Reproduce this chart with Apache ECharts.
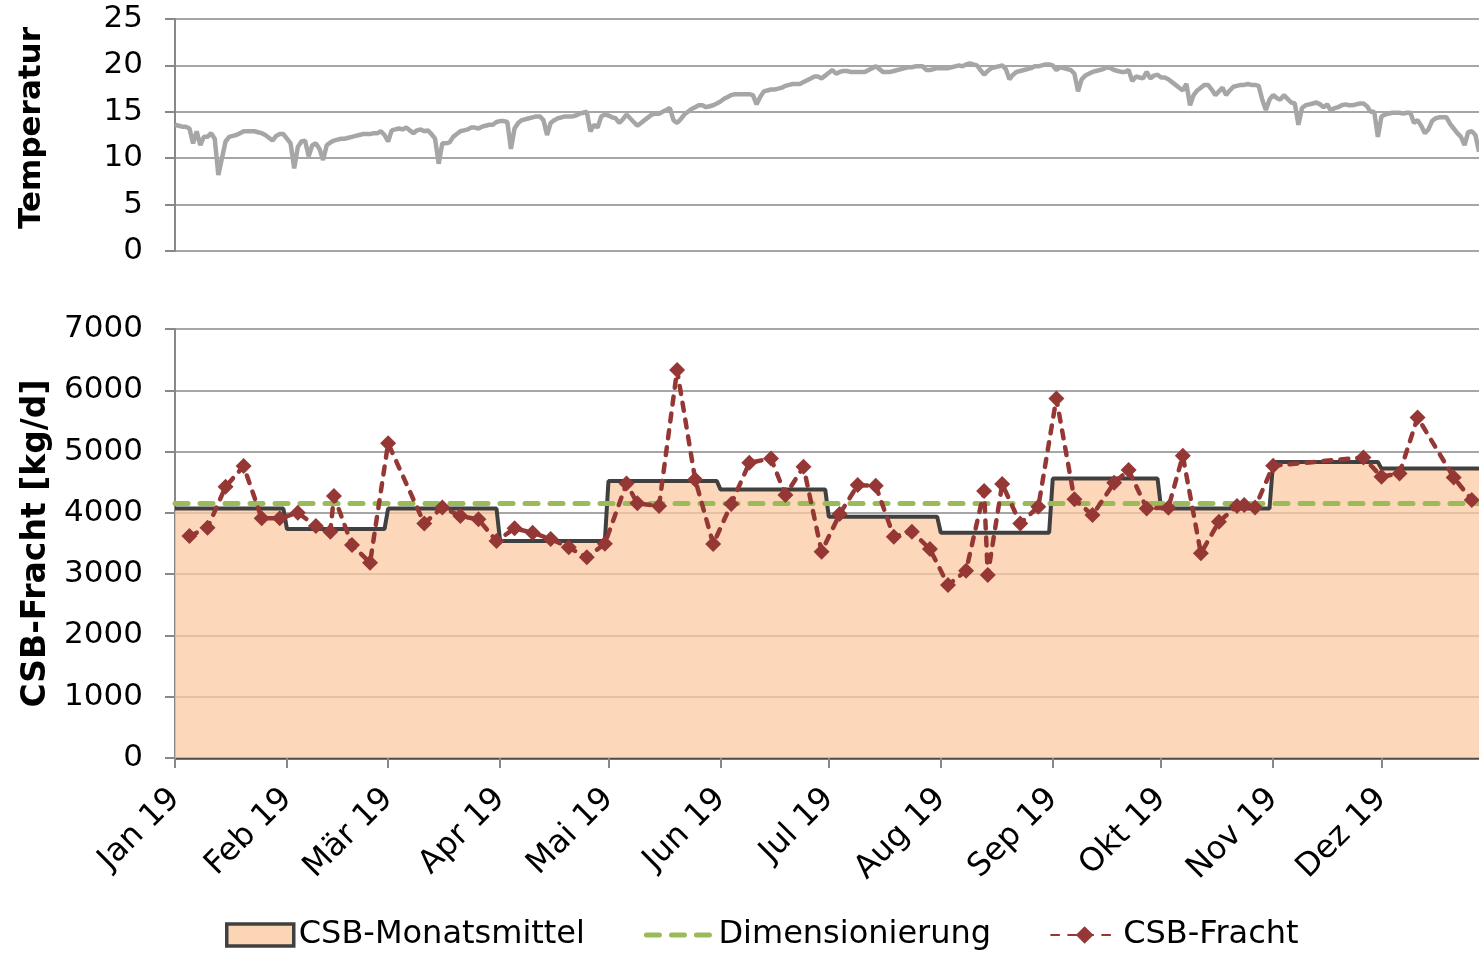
<!DOCTYPE html>
<html>
<head>
<meta charset="utf-8">
<script src="https://cdn.jsdelivr.net/npm/echarts@6/dist/echarts.min.js"></script>
<style>
  html, body { margin: 0; padding: 0; background: #fff; }
  #chart { width: 1479px; height: 953px; }
</style>
</head>
<body>
<div id="chart"></div>
<script>
// Tage ab 1. Jan 2019 (Tag 0)
const monthStart = [0, 31, 59, 90, 120, 151, 181, 212, 243, 273, 304, 334];
const monthEnd = [30, 58, 89, 119, 150, 180, 211, 242, 272, 303, 333, 364];
const monthLabels = ["Jan 19", "Feb 19", "Mär 19", "Apr 19", "Mai 19", "Jun 19",
  "Jul 19", "Aug 19", "Sep 19", "Okt 19", "Nov 19", "Dez 19"];

// CSB-Monatsmittel [kg/d]
const monthMean = [4070, 3736, 4070, 3540, 4519, 4383, 3937, 3676, 4560, 4070, 4830, 4722];

// Dimensionierung [kg/d]
const dimValue = 4160;

// CSB-Fracht Einzelwerte
const loadDays = [4, 9, 14, 19, 24, 29, 34, 39, 43, 44, 49, 54, 59, 69, 74, 79, 84, 89, 94, 99,
  104, 109, 114, 119, 125, 128, 134, 139, 144, 149, 154, 159, 165, 169, 174, 179, 184, 189, 194, 199,
  204, 209, 214, 219, 224, 225, 229, 234, 239, 244, 249, 254, 260, 264, 269, 275, 279, 284, 289, 294,
  296, 299, 304, 329, 334, 339, 344, 354, 359];
const loadValues = [3622, 3757, 4426, 4763, 3910, 3910, 4002, 3785, 3692, 4274, 3475, 3186, 5134, 3828, 4089, 3948, 3894, 3540, 3747, 3676,
  3573, 3437, 3274, 3497, 4481, 4155, 4111, 6330, 4546, 3491, 4144, 4817, 4888, 4290, 4752, 3366, 3980, 4453, 4442, 3610,
  3692, 3409, 2822, 3055, 4356, 2985, 4470, 3828, 4100, 5868, 4220, 3964, 4491, 4698, 4073, 4084, 4932, 3339, 3856, 4111,
  4127, 4089, 4769, 4905, 4589, 4643, 5557, 4578, 4209];

// Temperatur, Tageswerte ab Tag 0
const tempValues = [
  13.6, 13.5, 13.4, 13.4, 13.2, 11.6, 12.9, 11.4, 12.3, 12.3,
  12.7, 12.1, 8.2, 10.0, 11.8, 12.3, 12.4, 12.5, 12.7, 12.9,
  12.9, 12.9, 12.9, 12.8, 12.7, 12.5, 12.2, 11.9, 12.4, 12.6,
  12.6, 12.1, 11.6, 8.9, 11.2, 11.8, 11.9, 10.2, 11.4, 11.6,
  11.0, 9.8, 11.4, 11.7, 11.9, 12.0, 12.1, 12.1, 12.2, 12.3,
  12.4, 12.5, 12.6, 12.6, 12.6, 12.7, 12.7, 12.9, 12.5, 11.8,
  13.0, 13.1, 13.2, 13.1, 13.3, 13.0, 12.7, 13.0, 13.1, 12.9,
  13.0, 12.6, 12.1, 9.4, 11.6, 11.6, 11.7, 12.3, 12.6, 12.9,
  13.0, 13.1, 13.3, 13.3, 13.2, 13.4, 13.5, 13.6, 13.6, 13.9,
  14.0, 14.0, 13.9, 11.0, 13.2, 13.8, 14.1, 14.2, 14.3, 14.4,
  14.5, 14.5, 14.1, 12.5, 13.8, 14.1, 14.3, 14.4, 14.5, 14.5,
  14.5, 14.6, 14.8, 14.9, 15.0, 12.9, 13.6, 13.3, 14.5, 14.7,
  14.6, 14.4, 14.3, 13.8, 14.2, 14.7, 14.3, 13.9, 13.5, 13.8,
  14.1, 14.4, 14.7, 14.8, 14.8, 15.0, 15.2, 15.4, 14.1, 13.8,
  14.2, 14.7, 15.0, 15.3, 15.5, 15.7, 15.7, 15.5, 15.6, 15.7,
  15.9, 16.1, 16.4, 16.6, 16.8, 16.9, 16.9, 16.9, 16.9, 16.9,
  16.8, 15.8, 16.6, 17.2, 17.3, 17.4, 17.4, 17.5, 17.6, 17.8,
  17.9, 18.0, 18.0, 18.0, 18.2, 18.4, 18.6, 18.8, 18.8, 18.6,
  18.9, 19.2, 19.5, 19.1, 19.3, 19.4, 19.4, 19.3, 19.3, 19.3,
  19.3, 19.3, 19.5, 19.7, 19.9, 19.6, 19.3, 19.3, 19.3, 19.4,
  19.5, 19.6, 19.7, 19.8, 19.8, 19.9, 19.9, 19.9, 19.5, 19.5,
  19.6, 19.7, 19.7, 19.7, 19.7, 19.8, 19.9, 20.0, 19.9, 20.1,
  20.2, 20.1, 20.0, 19.5, 19.0, 19.4, 19.7, 19.8, 19.9, 20.0,
  19.6, 18.5, 19.0, 19.3, 19.4, 19.5, 19.6, 19.7, 19.9, 19.9,
  20.0, 20.1, 20.1, 20.0, 19.5, 19.8, 19.7, 19.6, 19.5, 19.1,
  17.2, 18.5, 18.9, 19.1, 19.3, 19.4, 19.5, 19.6, 19.8, 19.7,
  19.5, 19.4, 19.3, 19.3, 19.5, 18.3, 18.8, 18.7, 18.6, 19.3,
  18.6, 18.9, 19.0, 18.7, 18.7, 18.5, 18.2, 17.9, 17.6, 17.3,
  18.0, 15.7, 16.8, 17.3, 17.6, 17.9, 17.9, 17.4, 16.8, 17.2,
  17.6, 16.8, 17.3, 17.7, 17.8, 17.9, 17.9, 18.0, 17.9, 17.9,
  17.8, 16.3, 15.2, 16.3, 16.8, 16.5, 16.3, 16.8, 16.4, 16.0,
  15.9, 13.6, 15.4, 15.7, 15.8, 15.9, 16.0, 15.8, 15.5, 15.8,
  15.1, 15.4, 15.5, 15.7, 15.8, 15.7, 15.7, 15.8, 15.9, 15.9,
  15.6, 15.0, 15.0, 12.3, 14.5, 14.7, 14.8, 14.9, 14.9, 14.9,
  14.8, 14.9, 14.9, 13.8, 14.1, 13.5, 12.7, 13.1, 14.0, 14.3,
  14.4, 14.4, 14.4, 13.7, 13.2, 12.7, 12.3, 11.4, 12.8, 12.9,
  12.5, 10.7
];

const font = "DejaVu Sans";
const gridGray = "#888888";
const dimStyle = { color: "#9BBB59", width: 5, type: [13, 12], cap: "round" };

const chart = echarts.init(document.getElementById("chart"));

const meanData = [];
monthMean.forEach((m, i) => {
  meanData.push([monthStart[i], m]);
  meanData.push([monthEnd[i], m]);
});

chart.setOption({
  animation: false,
  textStyle: { fontFamily: font, color: "#000" },
  grid: [
    { left: 175, right: 0, top: 19, height: 232 },
    { left: 175, right: 0, top: 329, height: 429 }
  ],
  xAxis: [
    {
      gridIndex: 0,
      type: "value",
      min: 0,
      max: 361,
      axisLine: { show: false },
      axisTick: { show: false },
      axisLabel: { show: false },
      splitLine: { show: false }
    },
    {
      gridIndex: 1,
      type: "value",
      min: 0,
      max: 361,
      axisLine: { show: true, lineStyle: { color: "#4a4a4a", width: 2.5 } },
      axisTick: {
        show: true,
        customValues: monthStart,
        length: 10,
        lineStyle: { color: gridGray, width: 2 }
      },
      axisLabel: {
        customValues: monthStart,
        rotate: 45,
        margin: 36,
        fontSize: 32,
        fontFamily: font,
        color: "#000",
        formatter: v => monthLabels[monthStart.indexOf(v)]
      },
      splitLine: { show: false }
    }
  ],
  yAxis: [
    {
      gridIndex: 0,
      type: "value",
      min: 0,
      max: 25,
      interval: 5,
      name: "Temperatur",
      nameLocation: "middle",
      nameRotate: 90,
      nameGap: 128,
      nameTextStyle: { fontSize: 31, fontWeight: "bold", fontFamily: font, color: "#000", padding: [0, 0, 0, 14] },
      axisLine: { show: true, lineStyle: { color: gridGray, width: 2 } },
      axisTick: { show: true, length: 10, lineStyle: { color: gridGray, width: 2 } },
      axisLabel: { fontSize: 31, margin: 32, fontFamily: font, color: "#000" },
      splitLine: { lineStyle: { color: gridGray, width: 1.6 } }
    },
    {
      gridIndex: 1,
      type: "value",
      min: 0,
      max: 7000,
      interval: 1000,
      name: "CSB-Fracht [kg/d]",
      nameLocation: "middle",
      nameRotate: 90,
      nameGap: 111,
      nameTextStyle: { fontSize: 33, fontWeight: "bold", fontFamily: font, color: "#000" },
      axisLine: { show: true, lineStyle: { color: gridGray, width: 2 } },
      axisTick: { show: true, length: 10, lineStyle: { color: gridGray, width: 2 } },
      axisLabel: {
        fontSize: 31,
        margin: 32,
        fontFamily: font,
        color: "#000",
        formatter: v => String(v)
      },
      splitLine: { lineStyle: { color: gridGray, width: 1.6 } }
    }
  ],
  legend: {
    left: 220,
    top: 914,
    itemWidth: 67,
    itemHeight: 22,
    itemGap: 59,
    textStyle: { fontSize: 32, fontFamily: font, color: "#000" },
    data: [
      {
        name: "CSB-Monatsmittel",
        icon: "rect",
        itemStyle: { color: "#FCD5B4", borderColor: "#404040", borderWidth: 3.5 }
      },
      { name: "Dimensionierung", itemStyle: { opacity: 0 }, lineStyle: dimStyle },
      { name: "CSB-Fracht" }
    ]
  },
  series: [
    {
      name: "Temperatur",
      type: "line",
      xAxisIndex: 0,
      yAxisIndex: 0,
      showSymbol: false,
      symbol: "none",
      lineStyle: { color: "#A6A6A6", width: 4.5 },
      data: tempValues.map((v, i) => [i, v])
    },
    {
      name: "CSB-Monatsmittel",
      type: "line",
      xAxisIndex: 1,
      yAxisIndex: 1,
      symbol: "none",
      lineStyle: { color: "#404040", width: 4 },
      itemStyle: { color: "#404040" },
      areaStyle: { color: "rgba(251,202,162,0.75)", opacity: 1 },
      data: meanData
    },
    {
      name: "Dimensionierung",
      type: "line",
      xAxisIndex: 1,
      yAxisIndex: 1,
      symbol: "none",
      itemStyle: { color: "#9BBB59" },
      lineStyle: dimStyle,
      data: [],
      markLine: {
        silent: true,
        symbol: ["none", "none"],
        label: { show: false },
        lineStyle: dimStyle,
        emphasis: { disabled: true },
        data: [{ yAxis: dimValue, lineStyle: dimStyle }]
      }
    },
    {
      name: "CSB-Fracht",
      type: "line",
      xAxisIndex: 1,
      yAxisIndex: 1,
      symbol: "diamond",
      symbolSize: 16,
      itemStyle: { color: "#953735" },
      lineStyle: { color: "#953735", width: 4.5, type: [8, 9], cap: "round" },
      z: 5,
      data: loadDays.map((d, i) => [d, loadValues[i]])
    }
  ]
});
</script>
</body>
</html>
